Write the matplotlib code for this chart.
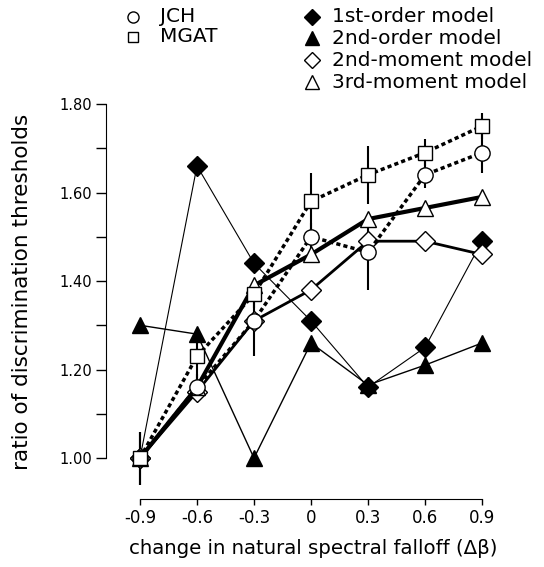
import numpy as np
import matplotlib
matplotlib.use("Agg")
import matplotlib.pyplot as plt
from matplotlib.lines import Line2D

plt.rcParams['font.family'] = ['DejaVu Sans']

# data
dbeta = [-0.9, -0.6, -0.3, 0.0, 0.3, 0.6, 0.9]
tick_labels = ['-0.9', '-0.6', '-0.3', '0', '0.3', '0.6', '0.9']

jch = [1.00, 1.16, 1.31, 1.50, 1.465, 1.64, 1.69]
jch_err = [0.06, 0.03, 0.08, 0.03, 0.085, 0.03, 0.045]
mgat = [1.00, 1.23, 1.37, 1.58, 1.64, 1.69, 1.75]
mgat_err = [0.06, 0.06, 0.03, 0.065, 0.065, 0.03, 0.03]

first_order = [1.00, 1.66, 1.44, 1.31, 1.16, 1.25, 1.49]
second_order = [1.30, 1.28, 1.00, 1.26, 1.165, 1.21, 1.26]
second_moment = [1.00, 1.15, 1.31, 1.38, 1.49, 1.49, 1.46]
third_moment = [1.00, 1.16, 1.39, 1.46, 1.54, 1.565, 1.59]

W, H = 544, 567
fig = plt.figure(figsize=(W / 100, H / 100), dpi=100)
# axes box in pixels: left 106, right 520, top 95, bottom 499
ax = fig.add_axes([106 / W, (H - 499) / H, (520 - 106) / W, (499 - 95) / H])
ax.set_xlim(-1.079, 1.100)
ax.set_ylim(0.9075, 1.8203)

# thin model lines
ax.plot(dbeta, second_order, color='black', lw=1.0, marker='^', ms=11,
        mfc='black', mec='black', zorder=3)
ax.plot(dbeta, first_order, color='black', lw=0.8, marker='D', ms=10,
        mfc='black', mec='black', zorder=3)
# moment models
ax.plot(dbeta, second_moment, color='black', lw=2.0, marker='D', ms=10,
        mfc='white', mec='black', mew=1.0, zorder=4)
ax.plot(dbeta, third_moment, color='black', lw=3.0, marker='^', ms=12,
        mfc='white', mec='black', mew=1.0, zorder=4)
# data with error bars
ax.errorbar(dbeta, jch, yerr=jch_err, fmt='none', ecolor='black', elinewidth=1.5,
            capsize=0, zorder=2)
ax.errorbar(dbeta, mgat, yerr=mgat_err, fmt='none', ecolor='black', elinewidth=1.5,
            capsize=0, zorder=2)
ax.plot(dbeta, jch, color='black', lw=2.5, ls=(0, (1.2, 0.9)), marker='o', ms=11,
        mfc='white', mec='black', mew=1.0, zorder=5)
ax.plot(dbeta, mgat, color='black', lw=2.5, ls=(0, (1.2, 0.9)), marker='s', ms=10,
        mfc='white', mec='black', mew=1.0, zorder=5)

for line in ax.lines:
    line.set_clip_on(False)

# detached spines
for s in ['top', 'right']:
    ax.spines[s].set_visible(False)
ax.spines['left'].set_bounds(1.0, 1.8)
ax.spines['bottom'].set_bounds(-0.9, 0.9)

ax.set_xticks(dbeta)
ax.set_xticklabels(tick_labels)
ax.set_yticks(np.arange(1.0, 1.81, 0.2))
ax.set_yticklabels(['1.00', '1.20', '1.40', '1.60', '1.80'])
ax.set_yticks(np.arange(1.1, 1.8, 0.2), minor=True)
ax.tick_params(axis='y', which='both', direction='out', length=7, width=1.0,
               labelsize=10.5, pad=3)
ax.tick_params(axis='x', direction='out', length=4.5, width=1.0, labelsize=12, pad=3)

ax.set_xlabel('change in natural spectral falloff (\u0394\u03b2)', fontsize=14.2,
              labelpad=8)
fig.text(22 / W, 1 - 292 / H, 'ratio of discrimination thresholds', rotation=90,
         fontsize=15.5, ha='center', va='center')

# legend drawn by hand in two columns
legend_left = [('o', 'JCH', 17), ('s', 'MGAT', 37)]
legend_right = [('D', 'black', '1st-order model', 17), ('^', 'black', '2nd-order model', 38),
                ('D', 'white', '2nd-moment model', 60), ('^', 'white', '3rd-moment model', 82)]
for m, label, yp in legend_left:
    fig.add_artist(Line2D([133 / W], [1 - yp / H], marker=m, ms=8 if m == 'o' else 7,
                          mfc='white', mec='black', mew=1.0, ls='none',
                          transform=fig.transFigure))
    fig.text(160 / W, 1 - yp / H, label, fontsize=14.5, ha='left', va='center')
for m, fc, label, yp in legend_right:
    fig.add_artist(Line2D([312 / W], [1 - yp / H], marker=m, ms=8 if m == 'D' else 10,
                          mfc=fc, mec='black', mew=1.0, ls='none',
                          transform=fig.transFigure))
    fig.text(332 / W, 1 - yp / H, label, fontsize=14.5, ha='left', va='center')

fig.savefig('out.png', dpi=100)
